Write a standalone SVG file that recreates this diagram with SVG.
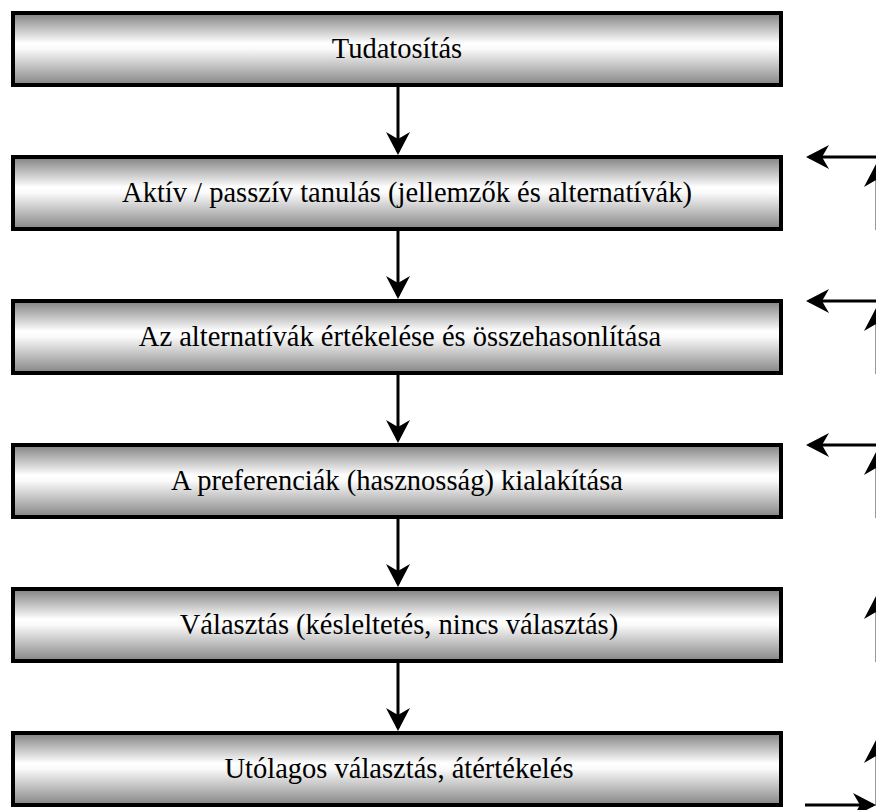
<svg xmlns="http://www.w3.org/2000/svg" width="876" height="810" viewBox="0 0 876 810">
<defs>
<linearGradient id="g" x1="0" y1="0" x2="0" y2="1">
<stop offset="0" stop-color="#808080"/>
<stop offset="0.42" stop-color="#ffffff"/>
<stop offset="0.5" stop-color="#fafafa"/>
<stop offset="1" stop-color="#858585"/>
</linearGradient>
<marker id="ah" viewBox="0 0 23 24" markerWidth="23" markerHeight="24" refX="20" refY="12" orient="auto" markerUnits="userSpaceOnUse">
<path d="M0,0 L23,12 L0,24 L7,12 Z" fill="#000"/>
</marker>
<style>
.box{fill:url(#g);stroke:#000;stroke-width:4}
.lbl{font-family:"Liberation Serif","Times New Roman",serif;font-size:28.5px;fill:#000;text-anchor:middle}
.ar{stroke:#000;stroke-width:3;fill:none;marker-end:url(#ah)}
.vl{stroke:#999;stroke-width:1;fill:none}
</style>
</defs>
<rect width="876" height="810" fill="#fff"/>
<g id="n1"><rect class="box" x="13" y="13" width="768" height="72"/><text class="lbl" x="397" y="58">Tudatosítás</text></g>
<g id="n2"><rect class="box" x="13" y="157" width="768" height="72"/><text class="lbl" x="407" y="202">Aktív / passzív tanulás (jellemzők és alternatívák)</text></g>
<g id="n3"><rect class="box" x="13" y="301" width="768" height="72"/><text class="lbl" x="400" y="346">Az alternatívák értékelése és összehasonlítása</text></g>
<g id="n4"><rect class="box" x="13" y="445" width="768" height="72"/><text class="lbl" x="397" y="490">A preferenciák (hasznosság) kialakítása</text></g>
<g id="n5"><rect class="box" x="13" y="589" width="768" height="72"/><text class="lbl" x="399" y="634">Választás (késleltetés, nincs választás)</text></g>
<g id="n6"><rect class="box" x="13" y="733" width="768" height="72"/><text class="lbl" x="399" y="778">Utólagos választás, átértékelés</text></g>
<g id="connectors">
<line class="ar" x1="398" y1="87" x2="398" y2="152"/>
<line class="ar" x1="398" y1="231" x2="398" y2="296"/>
<line class="ar" x1="398" y1="375" x2="398" y2="440"/>
<line class="ar" x1="398" y1="519" x2="398" y2="584"/>
<line class="ar" x1="398" y1="663" x2="398" y2="728"/>
<line class="ar" x1="880" y1="157" x2="809" y2="157"/>
<line class="ar" x1="880" y1="301" x2="809" y2="301"/>
<line class="ar" x1="880" y1="445" x2="809" y2="445"/>
<line class="vl" x1="875.5" y1="178" x2="875.5" y2="230"/>
<line class="vl" x1="875.5" y1="322" x2="875.5" y2="374"/>
<line class="vl" x1="875.5" y1="466" x2="875.5" y2="518"/>
<line class="vl" x1="875.5" y1="610" x2="875.5" y2="662"/>
<line class="vl" x1="875.5" y1="754" x2="875.5" y2="806"/>
<path d="M876,164 L864,187 L876,180 Z" fill="#000"/>
<path d="M876,308 L864,331 L876,324 Z" fill="#000"/>
<path d="M876,452 L864,475 L876,468 Z" fill="#000"/>
<path d="M876,596 L864,619 L876,612 Z" fill="#000"/>
<path d="M876,740 L864,763 L876,756 Z" fill="#000"/>
<line class="ar" x1="805" y1="805" x2="873" y2="805"/>
</g>
</svg>
